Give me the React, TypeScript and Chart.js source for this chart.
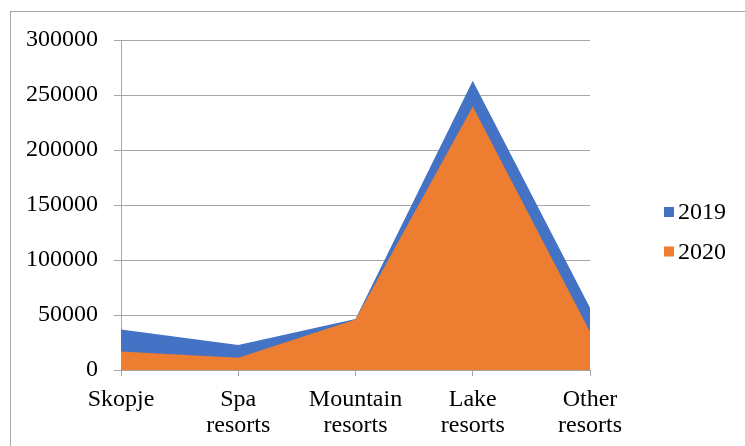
import React, { useEffect, useRef } from "react";
import { Chart, registerables } from "chart.js";

Chart.register(...registerables);

const categories: (string | string[])[] = [
  "Skopje",
  ["Spa", "resorts"],
  ["Mountain", "resorts"],
  ["Lake", "resorts"],
  ["Other", "resorts"],
];
const values2019 = [37000, 22800, 46500, 263000, 56800];
const values2020 = [17000, 11200, 46000, 239500, 35000];
const seriesLabels = ["2019", "2020"];
const seriesColors = ["#4472C4", "#ED7D31"];

const FONT = "'Liberation Serif', 'Times New Roman', serif";
const GRID = "#a6a6a6";
const FS = 24;

const framePlugin = {
  id: "frameAndLegend",
  afterDraw(chart: any) {
    const ctx = chart.ctx;
    ctx.save();
    ctx.strokeStyle = "#a6a6a6";
    ctx.lineWidth = 1;
    ctx.strokeRect(10.5, 11.5, 760, 460);
    const ds = chart.data.datasets;
    ctx.font = `${FS}px ${FONT}`;
    ctx.textBaseline = "middle";
    ctx.textAlign = "left";
    const startY = 212;
    const gap = 39.5;
    ds.forEach((d: any, i: number) => {
      const y = startY + i * gap;
      ctx.fillStyle = d.backgroundColor;
      ctx.fillRect(664, y - 5, 10, 10);
      ctx.fillStyle = "#000";
      ctx.fillText(d.label, 678, y + 1);
    });
    ctx.restore();
  },
};

export default function App() {
  const ref = useRef<HTMLCanvasElement | null>(null);
  useEffect(() => {
    if (!ref.current) return;
    const chart = new Chart(ref.current, {
      type: "line",
      data: {
        labels: categories,
        datasets: [
          {
            label: seriesLabels[0],
            data: values2019,
            backgroundColor: seriesColors[0],
            borderColor: seriesColors[0],
            borderWidth: 0,
            pointRadius: 0,
            fill: "origin",
            tension: 0,
            order: 2,
          },
          {
            label: seriesLabels[1],
            data: values2020,
            backgroundColor: seriesColors[1],
            borderColor: seriesColors[1],
            borderWidth: 0,
            pointRadius: 0,
            fill: "origin",
            tension: 0,
            order: 1,
          },
        ],
      },
      options: {
        animation: false,
        responsive: false,
        devicePixelRatio: 1,
        layout: { padding: { left: 10, top: 40, right: 155, bottom: 1 } },
        plugins: { legend: { display: false }, tooltip: { enabled: false } },
        scales: {
          x: {
            offset: false,
            grid: {
              drawOnChartArea: false,
              drawTicks: true,
              tickLength: 6,
              color: GRID,
            },
            border: { display: true, color: GRID, width: 1 },
            ticks: {
              color: "#000",
              font: { family: FONT, size: FS, lineHeight: 1.1 },
              padding: 10,
              maxRotation: 0,
              autoSkip: false,
            },
          },
          y: {
            min: 0,
            max: 300000,
            grid: { color: GRID, tickLength: 7, lineWidth: 1 },
            border: { display: true, color: GRID, width: 1 },
            ticks: {
              stepSize: 50000,
              color: "#000",
              font: { family: FONT, size: FS },
              padding: 16,
              callback: (v: any) => String(v),
            },
          },
        },
      },
      plugins: [framePlugin],
    });
    return () => chart.destroy();
  }, []);
  return (
    <div style={{ position: "fixed", left: 0, top: 0, width: 745, height: 450, background: "#fff" }}>
      <canvas ref={ref} width={745} height={450} style={{ display: "block" }} />
    </div>
  );
}
